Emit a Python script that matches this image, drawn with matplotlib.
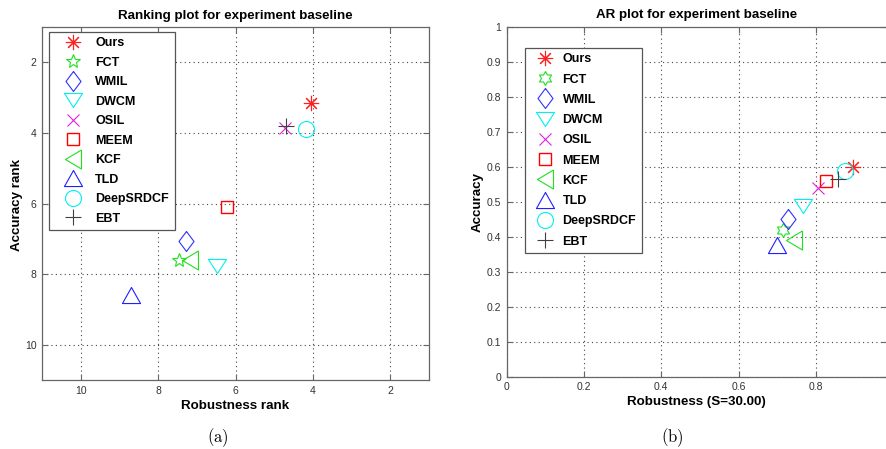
import numpy as np
import matplotlib
matplotlib.use("Agg")
import matplotlib.pyplot as plt

plt.rcParams['font.family'] = ['Liberation Sans', 'DejaVu Sans']
plt.rcParams['mathtext.fontset'] = 'cm'

# ---------------- data ----------------
trackers = ['Ours', 'FCT', 'WMIL', 'DWCM', 'OSIL', 'MEEM', 'KCF', 'TLD', 'DeepSRDCF', 'EBT']
rank_robustness = [4.05, 7.45, 7.28, 6.49, 4.72, 6.23, 7.17, 8.71, 4.17, 4.69]
rank_accuracy = [3.16, 7.61, 7.06, 7.77, 3.87, 6.11, 7.61, 8.60, 3.90, 3.81]
ar_robustness = [0.895, 0.716, 0.727, 0.767, 0.806, 0.826, 0.742, 0.699, 0.875, 0.856]
ar_accuracy = [0.600, 0.419, 0.450, 0.488, 0.538, 0.559, 0.390, 0.375, 0.589, 0.564]
rank_ticks = [2, 4, 6, 8, 10]
ar_xticks = [0, 0.2, 0.4, 0.6, 0.8]
ar_xticklabels = ['0', '0.2', '0.4', '0.6', '0.8']
ar_yticks = [0, 0.1, 0.2, 0.3, 0.4, 0.5, 0.6, 0.7, 0.8, 0.9, 1]
ar_yticklabels = ['0', '0.1', '0.2', '0.3', '0.4', '0.5', '0.6', '0.7', '0.8', '0.9', '1']

# ---------------- marker styles ----------------
diamond = [(0, 1), (0.75, 0), (0, -1), (-0.75, 0), (0, 1)]
tri_down = [(-1, 0.78), (1, 0.78), (0, -0.78), (-1, 0.78)]
tri_left = [(0.84, 1), (0.84, -1), (-0.84, 0), (0.84, 1)]
tri_up = [(-1, -0.89), (1, -0.89), (0, 0.89), (-1, -0.89)]
ang = np.pi / 2 + np.arange(12) * np.pi / 6
rad = np.where(np.arange(12) % 2 == 0, 1.0, 0.577)
hexagram = np.column_stack([rad * np.cos(ang), rad * np.sin(ang)])
hexagram = np.vstack([hexagram, hexagram[:1]])

colors = ['#ff2020', '#20e020', '#3030ff', '#00f0f0', '#e020e0', '#ff0000',
          '#20e020', '#2020ff', '#00f0f0', '#404040']
left_markers = [(8, 2, 0), '*', diamond, tri_down, 'x', 's', tri_left, tri_up, 'o', '+']
right_markers = [(8, 2, 0), hexagram, diamond, tri_down, 'x', 's', tri_left, tri_up, 'o', '+']
left_sizes = [11, 10.5, 14.4, 13, 8, 9, 13.7, 13, 11.5, 11]
right_sizes = [11, 10, 14.4, 13, 8, 9, 13.7, 13, 11.5, 11]
edge_widths = [0.8, 0.8, 0.8, 0.8, 0.8, 1.0, 0.8, 0.8, 0.8, 0.8]

W, H = 886, 449
fig = plt.figure(figsize=(W / 100, H / 100), dpi=100)

def px_axes(l, t, r, b):
    return fig.add_axes([l / W, (H - b) / H, (r - l) / W, (b - t) / H])

ax1 = px_axes(42, 27, 429, 380)
ax2 = px_axes(506.7, 26.7, 886.5, 376.7)

spine_c = '#666666'
tick_c = '#333333'

def style(ax):
    for s in ax.spines.values():
        s.set_color(spine_c)
        s.set_linewidth(0.9)
    ax.tick_params(direction='in', length=4, width=0.8, color=spine_c,
                   top=True, right=True, labelsize=7.5, labelcolor=tick_c, pad=4)
    ax.grid(True, linestyle=(0, (1, 3)), linewidth=0.8, color='#444444')
    ax.set_axisbelow(True)

for i, name in enumerate(trackers):
    ax1.plot(rank_robustness[i], rank_accuracy[i], linestyle='none',
             marker=left_markers[i], markersize=left_sizes[i],
             markerfacecolor='none', markeredgecolor=colors[i],
             markeredgewidth=edge_widths[i], label=name)
    ax2.plot(ar_robustness[i], ar_accuracy[i], linestyle='none',
             marker=right_markers[i], markersize=right_sizes[i],
             markerfacecolor='none', markeredgecolor=colors[i],
             markeredgewidth=edge_widths[i], label=name)

ax1.set_xlim(11, 1)
ax1.set_ylim(11, 1)
ax1.set_xticks(rank_ticks)
ax1.set_yticks(rank_ticks)
style(ax1)

ax2.set_xlim(0, 0.9826)
ax2.set_ylim(0, 1)
ax2.set_xticks(ar_xticks)
ax2.set_xticklabels(ar_xticklabels)
ax2.set_yticks(ar_yticks)
ax2.set_yticklabels(ar_yticklabels)
style(ax2)

bold = dict(fontsize=9.6, fontweight='bold')
ax1.set_title('Ranking plot for experiment baseline', pad=6, **bold)
ax2.set_title('AR plot for experiment baseline', pad=6, **bold)
ax1.set_xlabel('Robustness rank', labelpad=3, **bold)
ax1.set_ylabel('Accuracy rank', **bold)
ax2.set_xlabel('Robustness (S=30.00)', labelpad=3, **bold)
ax2.set_ylabel('Accuracy', **bold)
for ax, (lx, ly) in ((ax1, (16.7, 205)), (ax2, (478, 202))):
    ax.yaxis.label.set_ha('center')
    ax.yaxis.label.set_va('center')
    ax.yaxis.set_label_coords(lx / W, 1 - ly / H, transform=fig.transFigure)

leg_kw = dict(loc='upper left', prop={'weight': 'bold', 'size': 9},
              frameon=True, fancybox=False, framealpha=1, edgecolor='#555555',
              borderaxespad=0, bbox_transform=fig.transFigure)
l1 = ax1.legend(bbox_to_anchor=(49 / W, 1 - 31.7 / H), handlelength=2.9,
                handletextpad=0.35, borderpad=0.45, labelspacing=0.6, **leg_kw)
l2 = ax2.legend(bbox_to_anchor=(525 / W, 1 - 47.7 / H), handlelength=2.3,
                handletextpad=0.25, borderpad=0.45, labelspacing=0.66, **leg_kw)
for l in (l1, l2):
    l.get_frame().set_linewidth(0.9)

fig.text(218 / W, 1 - 438 / H, r'$\mathrm{(a)}$', ha='center', va='center', fontsize=12)
fig.text(672 / W, 1 - 438 / H, r'$\mathrm{(b)}$', ha='center', va='center', fontsize=12)

fig.savefig('out.png', dpi=100)
